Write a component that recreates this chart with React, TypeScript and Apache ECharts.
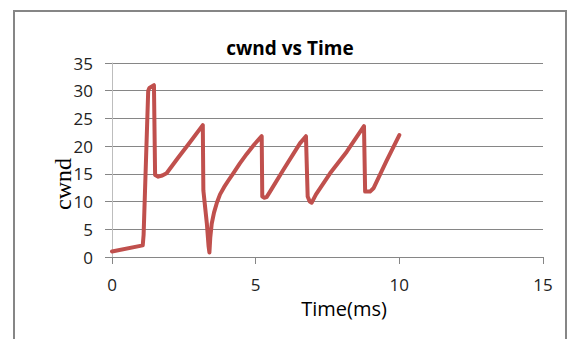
import React, { useEffect, useRef } from "react";
import * as echarts from "echarts";

const timeMs = [
  0, 1.07, 1.1, 1.26, 1.3, 1.46, 1.5, 1.61, 1.75, 1.9, 2.3, 2.7, 3.16,
  3.18, 3.3, 3.36, 3.39, 3.42, 3.47, 3.55, 3.65, 3.76, 3.9, 4.05, 4.22, 4.45, 4.69, 4.95, 5.21,
  5.23, 5.3, 5.38, 5.5, 5.96, 6.54, 6.75,
  6.81, 6.88, 6.95, 7.1, 7.59, 8.17, 8.77,
  8.81, 8.98, 9.1, 9.55, 10.0,
];
const cwnd = [
  1.0, 2.1, 4.0, 30.0, 30.5, 31.0, 14.8, 14.5, 14.7, 15.1, 17.9, 20.6, 23.8,
  12.0, 6.1, 2.0, 0.8, 3.5, 6.0, 8.0, 9.8, 11.3, 12.6, 13.8, 15.1, 16.9, 18.6, 20.3, 21.8,
  10.9, 10.7, 10.8, 11.8, 15.7, 20.5, 21.8,
  10.9, 10.0, 9.8, 11.3, 15.1, 19.0, 23.6,
  11.8, 11.8, 12.4, 17.3, 22.0,
];

const xTicks = [0, 5, 10, 15];
const yTicks = [0, 5, 10, 15, 20, 25, 30, 35];

export default function App() {
  const ref = useRef<HTMLDivElement>(null);
  useEffect(() => {
    if (!ref.current) return;
    const chart = echarts.init(ref.current, null, { renderer: "svg" });
    const gray = "#868686";
    const font = "'Open Sans', 'Noto Sans', sans-serif";
    chart.setOption({
      animation: false,
      backgroundColor: "#ffffff",
      grid: { left: 112, right: 25, top: 63, bottom: 82 },
      xAxis: {
        type: "value",
        min: xTicks[0],
        max: xTicks[xTicks.length - 1],
        interval: 5,
        axisLine: { show: true, lineStyle: { color: gray, width: 1 } },
        axisTick: { show: true, length: 7, lineStyle: { color: gray } },
        splitLine: { show: false },
        axisLabel: { color: "#222", fontSize: 17, fontFamily: font, margin: 19 },
      },
      yAxis: {
        type: "value",
        min: yTicks[0],
        max: yTicks[yTicks.length - 1],
        interval: 5,
        axisLine: { show: true, lineStyle: { color: "#bdbdbd", width: 1 } },
        axisTick: { show: true, length: 7, lineStyle: { color: gray } },
        splitLine: { show: true, lineStyle: { color: gray, width: 1 } },
        axisLabel: { color: "#222", fontSize: 17, fontFamily: font, margin: 19 },
      },
      series: [
        {
          type: "line",
          data: timeMs.map((t, i) => [t, cwnd[i]]),
          showSymbol: false,
          smooth: false,
          lineStyle: { color: "#C0504D", width: 4, cap: "round", join: "round" },
        },
      ],
      graphic: [
        {
          type: "rect",
          shape: { x: 14, y: 11, width: 552, height: 340 },
          style: { fill: "none", stroke: gray, lineWidth: 2 },
          silent: true,
          z: -1,
        },
        {
          type: "text",
          x: 290,
          y: 48,
          style: {
            text: "cwnd vs Time",
            fontSize: 19,
            fontWeight: "bold",
            fontFamily: font,
            fill: "#000",
            align: "center",
            verticalAlign: "middle",
          },
        },
        {
          type: "text",
          x: 344,
          y: 308,
          style: {
            text: "Time(ms)",
            fontSize: 20,
            fontFamily: font,
            fill: "#000",
            align: "center",
            verticalAlign: "middle",
          },
        },
        {
          type: "text",
          x: 63,
          y: 184,
          rotation: Math.PI / 2,
          style: {
            text: "cwnd",
            fontSize: 24,
            fontFamily: "'Liberation Serif', 'DejaVu Serif', serif",
            fill: "#000",
            align: "center",
            verticalAlign: "middle",
          },
        },
      ],
    });
    return () => chart.dispose();
  }, []);
  return <div ref={ref} style={{ width: 568, height: 339, position: "absolute", left: 0, top: 0 }} />;
}
